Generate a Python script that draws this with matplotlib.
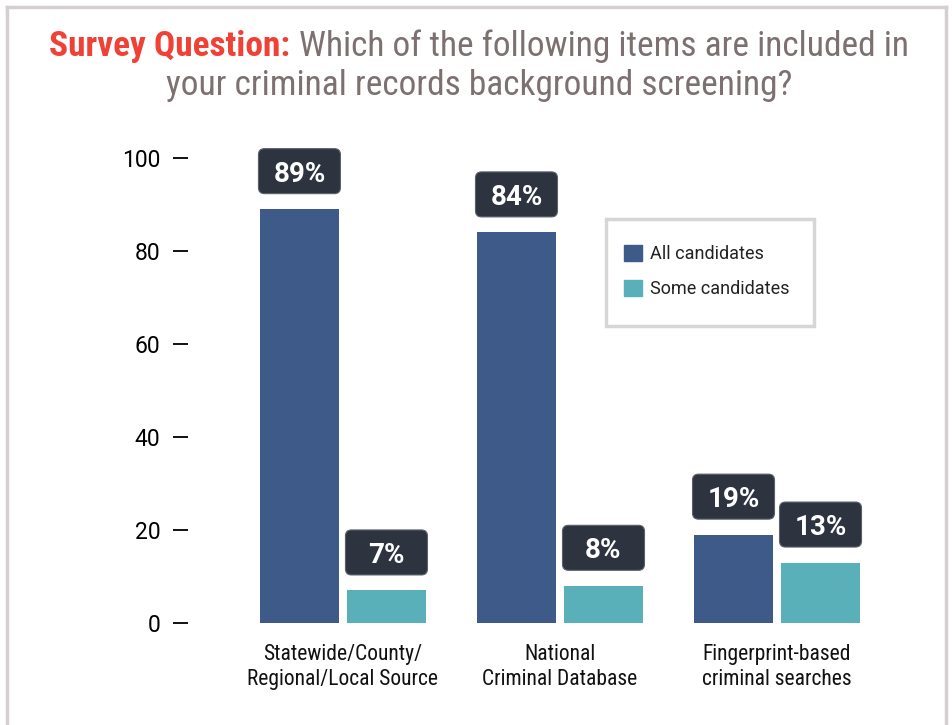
import matplotlib
matplotlib.use("Agg")
import matplotlib.pyplot as plt
from matplotlib import patches, lines, font_manager
from matplotlib.transforms import IdentityTransform
import numpy as np

categories = ["Statewide/County/\nRegional/Local Source",
              "National\nCriminal Database",
              "Fingerprint-based\ncriminal searches"]
all_candidates = [89, 84, 19]
some_candidates = [7, 8, 13]
series_names = ["All candidates", "Some candidates"]
yticks = [0, 20, 40, 60, 80, 100]

C_ALL = "#3d5a88"
C_SOME = "#5ab0b8"
C_BOX = "#2d3440"
C_RED = "#ef4136"
C_GREY = "#7d7070"
C_FRAME = "#d6cfcf"

installed = {f.name for f in font_manager.fontManager.ttflist}
COND = next((n for n in ["Roboto Condensed", "Liberation Sans Narrow", "Open Sans Condensed"]
             if n in installed), "Roboto")
plt.rcParams["font.family"] = ["Roboto", "DejaVu Sans"]

W, H = 952, 725
fig = plt.figure(figsize=(W / 100, H / 100), dpi=100)
fig.patch.set_facecolor("white")

# axes placed in pixel terms: y=0 at row 623, y=100 at row 158
ax = fig.add_axes((188 / W, (H - 623) / H, (940 - 188) / W, 465 / H))
ax.set_ylim(0, 100)
ax.set_xlim(-0.714, 2.751)
for s in ax.spines.values():
    s.set_visible(False)

x = np.arange(len(categories))
bw = 79 / 217
off = bw / 2 + 4 / 217
b1 = ax.bar(x - off, all_candidates, bw, color=C_ALL, label=series_names[0])
b2 = ax.bar(x + off, some_candidates, bw, color=C_SOME, label=series_names[1])

ax.set_yticks(yticks)
ax.tick_params(axis="y", length=11, width=1.4, pad=9, labelsize=16.5, color="#111111")
ax.set_xticks([])

# category labels below each group
for xi, name in zip(x, categories):
    ax.text(xi, -4.6, name, ha="center", va="top", fontsize=15.5,
            family=[COND, "DejaVu Sans"], color="#111111", linespacing=1.2)

# value boxes above the bars, fixed size in pixels
fig.canvas.draw()
for bars, vals in ((b1, all_candidates), (b2, some_candidates)):
    for bar, v in zip(bars, vals):
        cx = bar.get_x() + bar.get_width() / 2
        px, py = ax.transData.transform((cx, v))
        bw_px, bh_px = 82, 45
        cy = py + 38
        box = patches.FancyBboxPatch((px - bw_px / 2, cy - bh_px / 2), bw_px, bh_px,
                                     boxstyle="round,pad=0,rounding_size=6",
                                     facecolor=C_BOX, edgecolor="#5b616b", linewidth=0.8,
                                     transform=IdentityTransform(), zorder=5)
        fig.patches.append(box)
        fig.text(px / W, cy / H, f"{v}%", ha="center", va="center_baseline",
                 fontsize=20, fontweight="bold", color="white", zorder=6)

# legend with its own frame
fig.patches.append(patches.Rectangle((606 / W, 1 - 326 / H), 208 / W, 107 / H,
                                     transform=fig.transFigure, facecolor="white",
                                     edgecolor="#d6d6d6", linewidth=2.5, zorder=3))
handles = [patches.Patch(color=C_ALL), patches.Patch(color=C_SOME)]
leg = fig.legend(handles, series_names, loc="upper left",
                 bbox_to_anchor=(624 / W, 1 - 245 / H), bbox_transform=fig.transFigure,
                 fontsize=13, frameon=False, handlelength=1.0,
                 handleheight=1.0, handletextpad=0.45, labelspacing=0.9,
                 borderpad=0, borderaxespad=0)
leg.set_zorder(4)
for t in leg.get_texts():
    t.set_color("#222222")

# two-tone title, first line built from two pieces
renderer = fig.canvas.get_renderer()
t1 = fig.text(0, 1 - 56 / H, "Survey Question: ", fontsize=25.5, fontweight="bold",
              color=C_RED, family=[COND, "DejaVu Sans"], va="baseline")
t2 = fig.text(0, 1 - 56 / H, "Which of the following items are included in",
              fontsize=25.5, color=C_GREY, family=[COND, "DejaVu Sans"], va="baseline")
w1 = t1.get_window_extent(renderer).width
w2 = t2.get_window_extent(renderer).width
left = 479 - (w1 + w2) / 2
t1.set_x(left / W)
t2.set_x((left + w1) / W)
fig.text(479 / W, 1 - 95 / H, "your criminal records background screening?",
         fontsize=25.5, color=C_GREY, family=[COND, "DejaVu Sans"], ha="center", va="baseline")

# panel frame: left, top and right edges
fr = dict(color=C_FRAME, linewidth=2.5, transform=fig.transFigure)
fig.lines.append(lines.Line2D([7 / W, 7 / W], [0, 1 - 7 / H], **fr))
fig.lines.append(lines.Line2D([7 / W, 946 / W], [1 - 7 / H, 1 - 7 / H], **fr))
fig.lines.append(lines.Line2D([946 / W, 946 / W], [0, 1 - 7 / H], **fr))

fig.savefig("out.png", dpi=100)
